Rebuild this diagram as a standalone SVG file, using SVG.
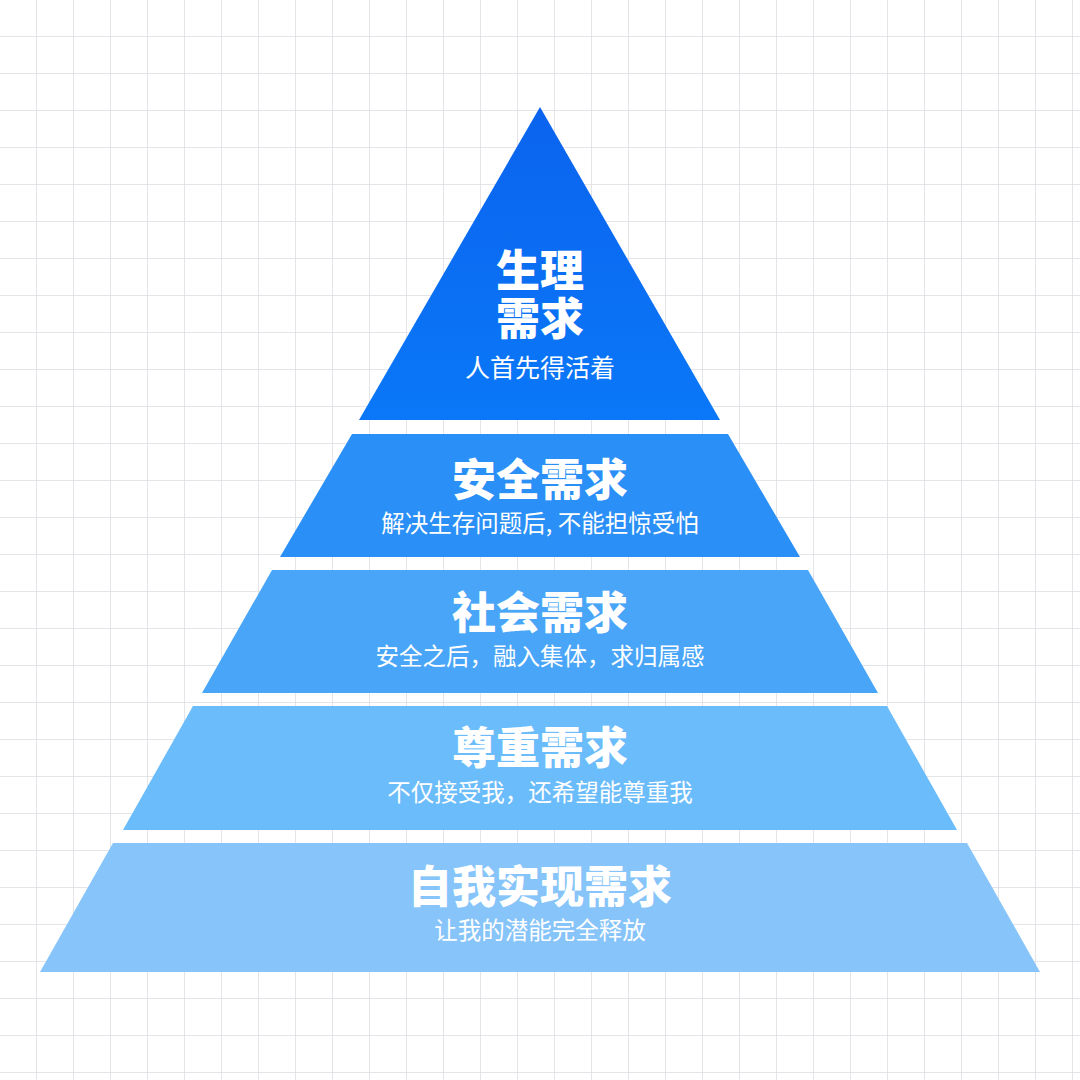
<svg xmlns="http://www.w3.org/2000/svg" width="1080" height="1080" viewBox="0 0 1080 1080">
<defs>
<pattern id="grid" width="37" height="37" patternUnits="userSpaceOnUse" x="0" y="0">
<path d="M37 0V37M0 37H37" fill="none" stroke="#dcdce2" stroke-width="1.5"/>
</pattern>
<linearGradient id="g1" x1="0" y1="0" x2="0" y2="1"><stop offset="0" stop-color="#0b63ee"/><stop offset="1" stop-color="#0a78f8"/></linearGradient>
</defs>
<style>
.t{font-family:"Noto Sans CJK SC",sans-serif;font-weight:900;font-size:44px;fill:#fff;text-anchor:middle}
.s{font-family:"Noto Sans CJK SC",sans-serif;font-size:23.5px;fill:#fff;text-anchor:middle}
</style>
<rect width="1080" height="1080" fill="#fff"/>
<rect width="1080" height="1080" fill="url(#grid)"/>
<g id="level1"><polygon points="540,107 720,420 359,420" fill="url(#g1)"/>
<text class="t" x="540" y="287">生理</text><text class="t" x="540" y="335">需求</text><text class="s" x="540" y="377" style="font-size:25px">人首先得活着</text></g>
<g id="level2"><polygon points="352,434 728,434 800,557 280,557" fill="#2a8ff6"/>
<text class="t" x="540" y="496">安全需求</text><text class="s" x="540" y="532">解决生存问题后, 不能担惊受怕</text></g>
<g id="level3"><polygon points="272,570 808,570 878,693 202,693" fill="#49a5f8"/>
<text class="t" x="540" y="629">社会需求</text><text class="s" x="540" y="665">安全之后，融入集体，求归属感</text></g>
<g id="level4"><polygon points="193,706 887,706 957,830 123,830" fill="#6bbcfb"/>
<text class="t" x="540" y="764">尊重需求</text><text class="s" x="540" y="801">不仅接受我，还希望能尊重我</text></g>
<g id="level5"><polygon points="113,843 967,843 1040,972 40,972" fill="#86c4f9"/>
<text class="t" x="540" y="903">自我实现需求</text><text class="s" x="540" y="939">让我的潜能完全释放</text></g>
<g id="connectors"/>
</svg>
